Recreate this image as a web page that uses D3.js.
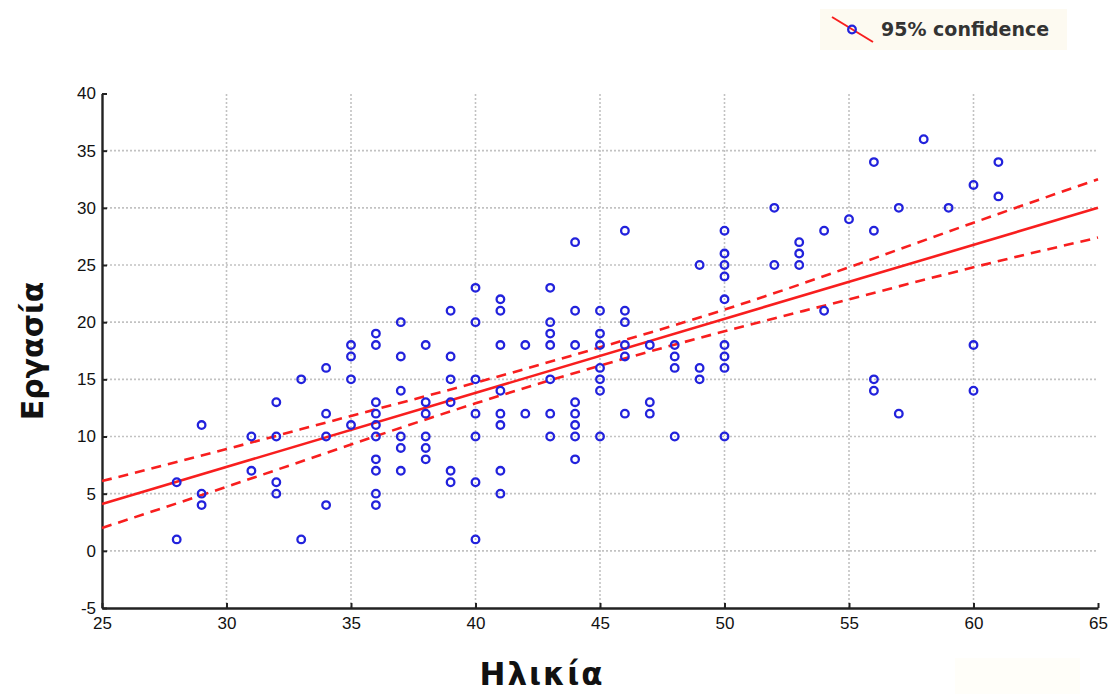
<!DOCTYPE html>
<html>
<head>
<meta charset="utf-8">
<script src="https://cdn.jsdelivr.net/npm/d3@7"></script>
<style>
  html, body { margin: 0; padding: 0; background: #fff; }
  svg { display: block; }
</style>
</head>
<body>
<div id="chart"></div>
<script>
// age (x) and work score (y) for each subject
const ages = [
  28, 28,
  29, 29, 29,
  31, 31,
  32, 32, 32, 32,
  33, 33,
  34, 34, 34, 34,
  35, 35, 35, 35,
  36, 36, 36, 36, 36, 36, 36, 36, 36, 36,
  37, 37, 37, 37, 37, 37,
  38, 38, 38, 38, 38, 38,
  39, 39, 39, 39, 39, 39,
  40, 40, 40, 40, 40, 40, 40,
  41, 41, 41, 41, 41, 41, 41, 41,
  42, 42,
  43, 43, 43, 43, 43, 43, 43,
  44, 44, 44, 44, 44, 44, 44, 44,
  45, 45, 45, 45, 45, 45, 45,
  46, 46, 46, 46, 46, 46,
  47, 47, 47,
  48, 48, 48, 48,
  49, 49, 49,
  50, 50, 50, 50, 50, 50, 50, 50, 50,
  52, 52,
  53, 53, 53,
  54, 54,
  55,
  56, 56, 56, 56,
  57, 57,
  58,
  59,
  60, 60, 60,
  61, 61
];
const work = [
  6, 1,
  11, 5, 4,
  10, 7,
  13, 10, 6, 5,
  15, 1,
  16, 12, 10, 4,
  18, 17, 15, 11,
  19, 18, 13, 12, 11, 10, 8, 7, 5, 4,
  20, 17, 14, 10, 9, 7,
  18, 13, 12, 10, 9, 8,
  21, 17, 15, 13, 7, 6,
  23, 20, 15, 12, 10, 6, 1,
  22, 21, 18, 14, 12, 11, 7, 5,
  18, 12,
  23, 20, 19, 18, 15, 12, 10,
  27, 21, 18, 13, 12, 11, 10, 8,
  21, 19, 18, 16, 15, 14, 10,
  28, 21, 20, 18, 17, 12,
  18, 13, 12,
  18, 17, 16, 10,
  25, 16, 15,
  28, 26, 25, 24, 22, 18, 17, 16, 10,
  30, 25,
  27, 26, 25,
  28, 21,
  29,
  34, 28, 15, 14,
  30, 12,
  36,
  30,
  32, 18, 14,
  34, 31
];

// fitted line and 95% confidence band
const fitX = [25, 65];
const fitY = [4.1, 30.0];
const bandX = [25, 30, 35, 40, 45, 50, 55, 60, 65];
const bandUpper = [6.1, 8.9, 11.8, 14.7, 17.8, 21.1, 24.8, 28.7, 32.5];
const bandLower = [2.0, 5.6, 9.3, 12.9, 16.2, 19.2, 22.0, 24.8, 27.4];

const xTicks = [25, 30, 35, 40, 45, 50, 55, 60, 65];
const yTicks = [-5, 0, 5, 10, 15, 20, 25, 30, 35, 40];
const xGrid = [30, 35, 40, 45, 50, 55, 60];
const yGrid = [0, 5, 10, 15, 20, 25, 30, 35];

const xTitle = "Ηλικία";
const yTitle = "Εργασία";
const legendLabel = "95% confidence";

const width = 1113;
const height = 694;
const margin = { top: 93.5, right: 15, bottom: 86, left: 102 };

const red = "#f81e1e";
const blue = "#2222dc";

const svg = d3.select("#chart")
  .append("svg")
  .attr("width", width)
  .attr("height", height)
  .style("font-family", "'Liberation Sans', Arial, sans-serif");

const x = d3.scaleLinear().domain([25, 65]).range([margin.left, width - margin.right]);
const y = d3.scaleLinear().domain([-5, 40]).range([height - margin.bottom, margin.top]);

// very faint patch in the lower right corner of the original
svg.append("rect")
  .attr("x", 955).attr("y", 658)
  .attr("width", 125).attr("height", 36)
  .attr("fill", "#fffef9");

// dotted grid
svg.append("g")
  .selectAll("line")
  .data(xGrid)
  .join("line")
  .attr("x1", d => x(d)).attr("x2", d => x(d))
  .attr("y1", y(-5)).attr("y2", y(40))
  .attr("stroke", "#c2c2c2")
  .attr("stroke-width", 1.6)
  .attr("stroke-dasharray", "2,2");

svg.append("g")
  .selectAll("line")
  .data(yGrid)
  .join("line")
  .attr("x1", x(25)).attr("x2", x(65))
  .attr("y1", d => y(d)).attr("y2", d => y(d))
  .attr("stroke", "#c2c2c2")
  .attr("stroke-width", 1.6)
  .attr("stroke-dasharray", "2,2");

// axes, ticks pointing inwards
const fmt = d => String(d);

const xAxis = svg.append("g")
  .attr("transform", `translate(0,${y(-5)})`)
  .call(d3.axisBottom(x).tickValues(xTicks).tickFormat(fmt).tickSize(-5).tickSizeOuter(0).tickPadding(9));

const yAxis = svg.append("g")
  .attr("transform", `translate(${x(25)},0)`)
  .call(d3.axisLeft(y).tickValues(yTicks).tickFormat(fmt).tickSize(-5).tickSizeOuter(0).tickPadding(6));

[xAxis, yAxis].forEach(g => {
  g.select(".domain").attr("stroke", "#222").attr("stroke-width", 2.4);
  g.selectAll(".tick line").attr("stroke", "#222").attr("stroke-width", 2);
  g.selectAll(".tick text")
    .attr("fill", "#111")
    .style("font-size", "17px")
    .style("font-family", "'Liberation Sans', Arial, sans-serif");
});

// confidence band and fitted line
const bandLine = d3.line().x(d => x(d[0])).y(d => y(d[1])).curve(d3.curveNatural);

svg.append("path")
  .attr("d", bandLine(bandX.map((v, i) => [v, bandUpper[i]])))
  .attr("fill", "none")
  .attr("stroke", red)
  .attr("stroke-width", 2.6)
  .attr("stroke-dasharray", "10,7");

svg.append("path")
  .attr("d", bandLine(bandX.map((v, i) => [v, bandLower[i]])))
  .attr("fill", "none")
  .attr("stroke", red)
  .attr("stroke-width", 2.6)
  .attr("stroke-dasharray", "10,7");

svg.append("path")
  .attr("d", d3.line().x(d => x(d[0])).y(d => y(d[1]))(fitX.map((v, i) => [v, fitY[i]])))
  .attr("fill", "none")
  .attr("stroke", red)
  .attr("stroke-width", 2.6);

// scatter points
svg.append("g")
  .selectAll("circle")
  .data(ages.map((a, i) => [a, work[i]]))
  .join("circle")
  .attr("cx", d => x(d[0]))
  .attr("cy", d => y(d[1]))
  .attr("r", 3.8)
  .attr("fill", "none")
  .attr("stroke", blue)
  .attr("stroke-width", 2.3);

// axis titles
svg.append("text")
  .attr("x", 542)
  .attr("y", 685)
  .attr("text-anchor", "middle")
  .style("font-family", "'DejaVu Sans', sans-serif")
  .style("font-size", "31px")
  .style("font-weight", "bold")
  .style("letter-spacing", "2px")
  .attr("fill", "#111")
  .text(xTitle);

svg.append("text")
  .attr("transform", "translate(43,351) rotate(-90)")
  .attr("text-anchor", "middle")
  .style("font-family", "'DejaVu Sans', sans-serif")
  .style("font-size", "30px")
  .style("font-weight", "bold")
  .attr("fill", "#111")
  .text(yTitle);

// legend
const legend = svg.append("g");
legend.append("rect")
  .attr("x", 820).attr("y", 9)
  .attr("width", 247).attr("height", 41)
  .attr("fill", "#fdfaf1");
legend.append("line")
  .attr("x1", 832).attr("y1", 17)
  .attr("x2", 873).attr("y2", 42)
  .attr("stroke", red)
  .attr("stroke-width", 2);
legend.append("circle")
  .attr("cx", 852).attr("cy", 29.5)
  .attr("r", 3.8)
  .attr("fill", "none")
  .attr("stroke", blue)
  .attr("stroke-width", 2.3);
legend.append("text")
  .attr("x", 881).attr("y", 36)
  .style("font-family", "'DejaVu Sans', sans-serif")
  .style("font-size", "19px")
  .style("font-weight", "bold")
  .attr("fill", "#333")
  .text(legendLabel);
</script>
</body>
</html>
